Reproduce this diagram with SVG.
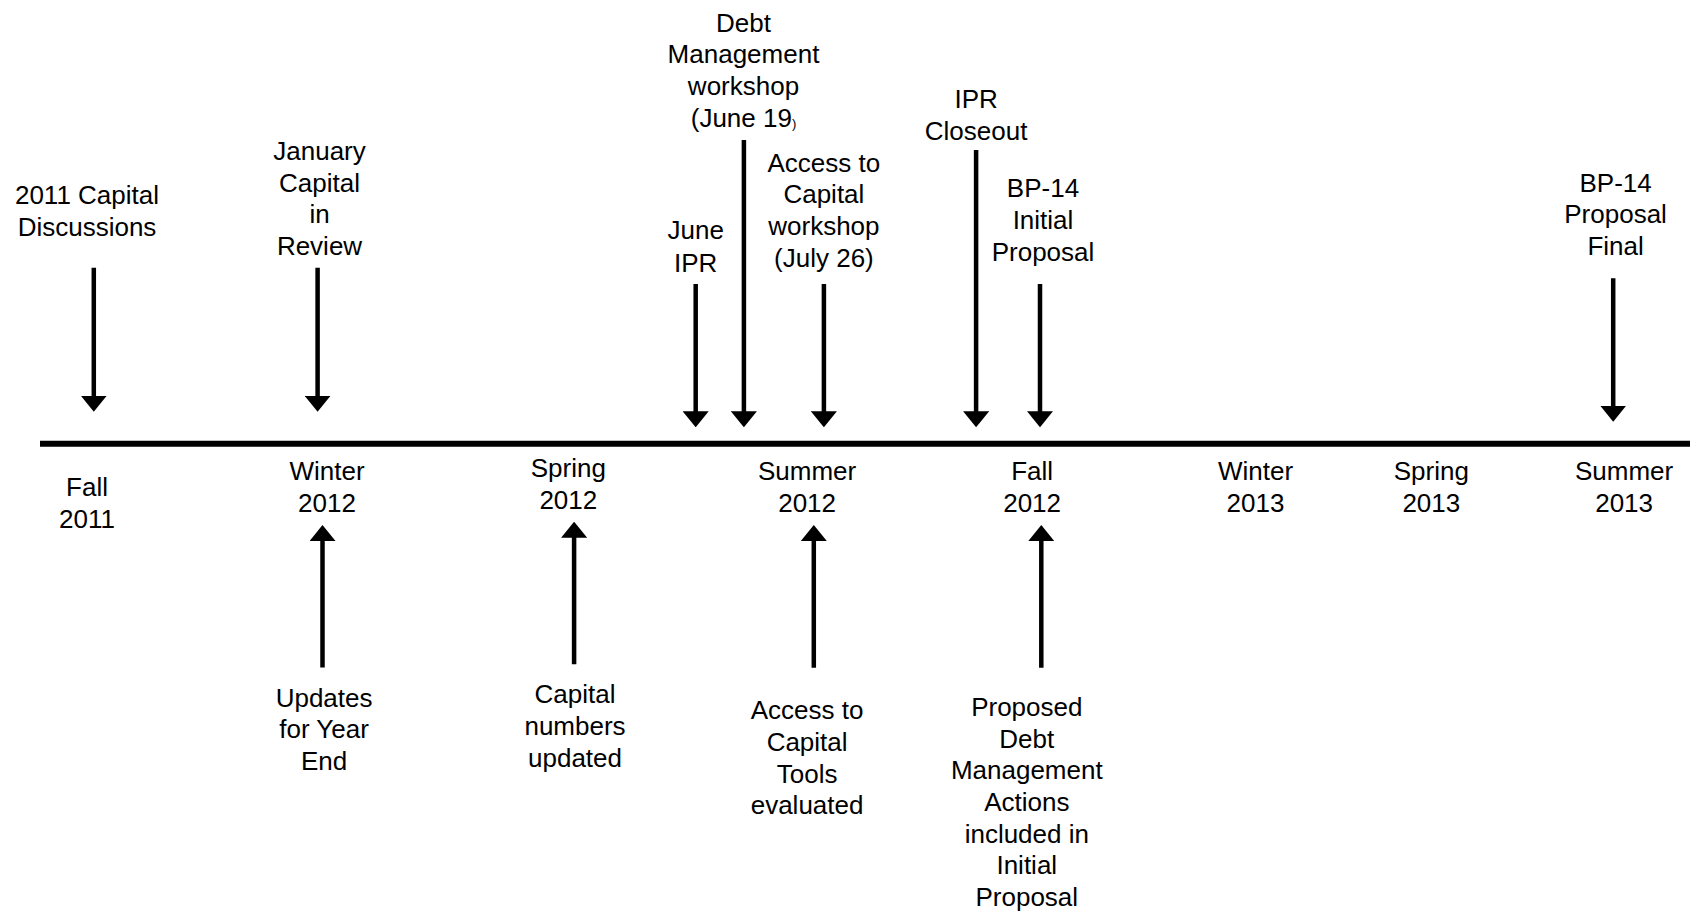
<svg xmlns="http://www.w3.org/2000/svg" width="1690" height="913" viewBox="0 0 1690 913">
<style>
text{font-family:"Liberation Sans",Arial,sans-serif;font-size:26px;fill:#000;text-anchor:middle}
.arr{stroke:#000;stroke-width:4.5;fill:none;marker-end:url(#ah)}
.axis{stroke:#000;stroke-width:6}
</style>
<defs>
<marker id="ah" viewBox="0 0 16 26" refX="6" refY="13" markerWidth="16" markerHeight="26" markerUnits="userSpaceOnUse" orient="auto">
<path d="M0,0 L16,13 L0,26 z" fill="#000"/>
</marker>
</defs>
<rect width="1690" height="913" fill="#fff"/>
<g id="connectors">
<line class="axis" x1="40" y1="443.7" x2="1690" y2="443.7"/>
<line class="arr" x1="93.8" y1="267.7" x2="93.8" y2="401.7"/>
<line class="arr" x1="317.6" y1="267.7" x2="317.6" y2="401.7"/>
<line class="arr" x1="695.7" y1="284" x2="695.7" y2="417.3"/>
<line class="arr" x1="743.9" y1="140" x2="743.9" y2="417.3"/>
<line class="arr" x1="823.9" y1="284" x2="823.9" y2="417.3"/>
<line class="arr" x1="976.1" y1="150" x2="976.1" y2="417.3"/>
<line class="arr" x1="1040" y1="284" x2="1040" y2="417.3"/>
<line class="arr" x1="1613.2" y1="278.3" x2="1613.2" y2="411.7"/>
<line class="arr" x1="322.5" y1="667.5" x2="322.5" y2="535"/>
<line class="arr" x1="574.1" y1="664.3" x2="574.1" y2="531.7"/>
<line class="arr" x1="813.8" y1="667.7" x2="813.8" y2="535"/>
<line class="arr" x1="1041.3" y1="667.7" x2="1041.3" y2="535"/>
</g>
<g id="season-fall-2011"><text x="87" y="496">Fall</text><text x="87" y="527.7">2011</text></g>
<g id="season-winter-2012"><text x="327" y="480">Winter</text><text x="327" y="511.7">2012</text></g>
<g id="season-spring-2012"><text x="568.3" y="477.3">Spring</text><text x="568.3" y="509.3">2012</text></g>
<g id="season-summer-2012"><text x="807.1" y="480">Summer</text><text x="807.1" y="511.7">2012</text></g>
<g id="season-fall-2012"><text x="1032.1" y="480">Fall</text><text x="1032.1" y="511.7">2012</text></g>
<g id="season-winter-2013"><text x="1255.5" y="480">Winter</text><text x="1255.5" y="511.7">2013</text></g>
<g id="season-spring-2013"><text x="1431.3" y="480">Spring</text><text x="1431.3" y="511.7">2013</text></g>
<g id="season-summer-2013"><text x="1624.1" y="480">Summer</text><text x="1624.1" y="511.7">2013</text></g>
<g id="ev-2011-capital"><text x="87" y="204">2011 Capital</text><text x="87" y="236">Discussions</text></g>
<g id="ev-january"><text x="319.5" y="160">January</text><text x="319.5" y="191.7">Capital</text><text x="319.5" y="223.3">in</text><text x="319.5" y="255">Review</text></g>
<g id="ev-debt-workshop"><text x="743.5" y="31.7">Debt</text><text x="743.5" y="63.3">Management</text><text x="743.5" y="95">workshop</text><text x="743.5" y="126.7">(June 19<tspan font-size="13" dy="1">)</tspan></text></g>
<g id="ev-june-ipr"><text x="695.7" y="239.3">June</text><text x="695.7" y="271.7">IPR</text></g>
<g id="ev-access-workshop"><text x="823.9" y="171.7">Access to</text><text x="823.9" y="203.3">Capital</text><text x="823.9" y="235">workshop</text><text x="823.9" y="266.7">(July 26)</text></g>
<g id="ev-ipr-closeout"><text x="976.1" y="108.3">IPR</text><text x="976.1" y="140">Closeout</text></g>
<g id="ev-bp14-initial"><text x="1043" y="197.3">BP-14</text><text x="1043" y="229.3">Initial</text><text x="1043" y="261">Proposal</text></g>
<g id="ev-bp14-final"><text x="1615.6" y="191.7">BP-14</text><text x="1615.6" y="223.3">Proposal</text><text x="1615.6" y="255">Final</text></g>
<g id="ev-updates"><text x="324.1" y="706.7">Updates</text><text x="324.1" y="738.3">for Year</text><text x="324.1" y="770">End</text></g>
<g id="ev-capital-numbers"><text x="575" y="703.3">Capital</text><text x="575" y="735">numbers</text><text x="575" y="766.7">updated</text></g>
<g id="ev-access-tools"><text x="807.1" y="719.3">Access to</text><text x="807.1" y="751">Capital</text><text x="807.1" y="782.7">Tools</text><text x="807.1" y="814.3">evaluated</text></g>
<g id="ev-proposed-debt"><text x="1026.8" y="716">Proposed</text><text x="1026.8" y="747.7">Debt</text><text x="1026.8" y="779.3">Management</text><text x="1026.8" y="811">Actions</text><text x="1026.8" y="842.7">included in</text><text x="1026.8" y="874.3">Initial</text><text x="1026.8" y="906">Proposal</text></g>
</svg>
